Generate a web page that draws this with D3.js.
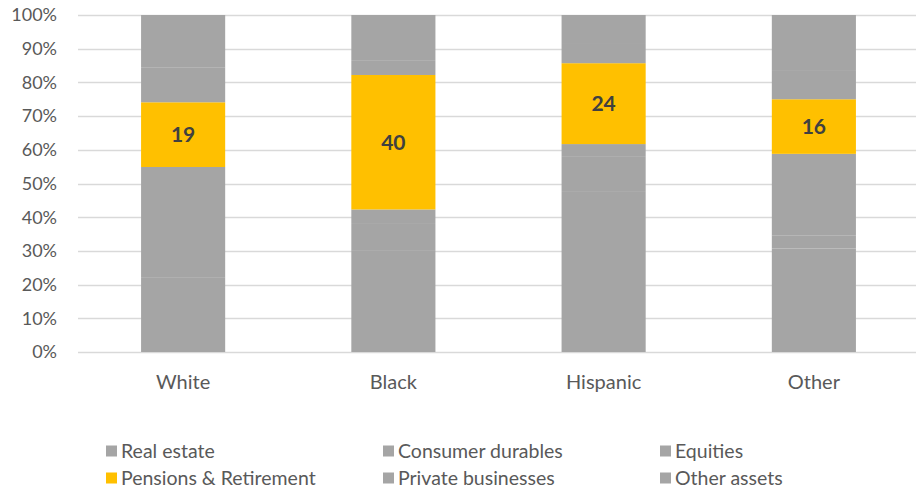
<!DOCTYPE html>
<html>
<head>
<meta charset="utf-8">
<script src="https://cdn.jsdelivr.net/npm/d3@7"></script>
<style>
  html, body { margin: 0; padding: 0; background: #ffffff; }
  svg { display: block; font-family: Lato, "Open Sans", sans-serif; }
</style>
</head>
<body>
<svg id="chart" width="916" height="489"></svg>
<script>
// ---- Data (shares of total assets, %) ----
const categories = ["White", "Black", "Hispanic", "Other"];
const seriesNames = ["Real estate", "Consumer durables", "Equities", "Pensions & Retirement", "Private businesses", "Other assets"];
const realEstate        = [22.0, 30.0, 47.5, 30.7];
const consumerDurables  = [5.0, 8.0, 10.4, 3.8];
const equities          = [27.9, 4.3, 3.8, 24.3];
const pensions          = [19.2, 39.9, 24.0, 16.2];
const privateBusinesses = [10.4, 4.4, 5.7, 8.4];
const otherAssets       = [15.5, 13.4, 8.6, 16.6];
const pensionLabels     = ["19", "40", "24", "16"];
const yTicks = [0, 10, 20, 30, 40, 50, 60, 70, 80, 90, 100];

const seriesValues = [realEstate, consumerDurables, equities, pensions, privateBusinesses, otherAssets];
const colors = ["#a5a5a5", "#a5a5a5", "#a5a5a5", "#ffc000", "#a5a5a5", "#a5a5a5"];

const table = categories.map((c, i) => {
  const row = { category: c };
  seriesNames.forEach((s, j) => row[s] = seriesValues[j][i]);
  return row;
});

const svg = d3.select("#chart");
const x = d3.scaleBand().domain(categories).range([78, 919]).paddingInner(0.6).paddingOuter(0.3);
const y = d3.scaleLinear().domain([0, 100]).range([352, 15]);

// gridlines
svg.append("g").selectAll("line").data(yTicks).join("line")
  .attr("x1", 78).attr("x2", 916)
  .attr("y1", d => Math.round(y(d)) + 0.5).attr("y2", d => Math.round(y(d)) + 0.5)
  .attr("stroke", "#d9d9d9").attr("stroke-width", 1.3);

// y tick labels
svg.append("g").selectAll("text").data(yTicks).join("text")
  .attr("x", 57).attr("y", d => y(d)).attr("dy", "0.35em")
  .attr("text-anchor", "end").attr("font-size", 18).attr("fill", "#595959")
  .text(d => d + "%");

// stacked bars
const stack = d3.stack().keys(seriesNames);
const stacked = stack(table);
svg.append("g").selectAll("g").data(stacked).join("g")
  .attr("fill", (d, i) => colors[i])
  .selectAll("rect").data(d => d).join("rect")
  .attr("x", d => x(d.data.category))
  .attr("width", x.bandwidth())
  .attr("y", d => y(d[1]))
  .attr("height", d => y(d[0]) - y(d[1]));

// pension labels
const pensionLayer = stacked[3];
svg.append("g").selectAll("text").data(pensionLayer).join("text")
  .attr("x", d => x(d.data.category) + x.bandwidth() / 2)
  .attr("y", d => (y(d[0]) + y(d[1])) / 2).attr("dy", "0.36em")
  .attr("text-anchor", "middle").attr("font-size", 21).attr("font-weight", "bold")
  .attr("fill", "#404040")
  .text((d, i) => pensionLabels[i]);

// category labels
svg.append("g").selectAll("text").data(categories).join("text")
  .attr("x", d => x(d) + x.bandwidth() / 2).attr("y", 382).attr("dy", "0.35em")
  .attr("text-anchor", "middle").attr("font-size", 20).attr("fill", "#595959")
  .text(d => d);

// legend
const legendCols = [106, 383, 660];
const legendRows = [451, 478];
const lg = svg.append("g").selectAll("g").data(seriesNames).join("g")
  .attr("transform", (d, i) => `translate(${legendCols[i % 3]},${legendRows[Math.floor(i / 3)]})`);
lg.append("rect").attr("x", 0).attr("y", -5.5).attr("width", 11).attr("height", 11)
  .attr("fill", (d, i) => colors[i]);
lg.append("text").attr("x", 15).attr("y", 0).attr("dy", "0.35em")
  .attr("font-size", 19.5).attr("fill", "#595959").text(d => d);
</script>
</body>
</html>
